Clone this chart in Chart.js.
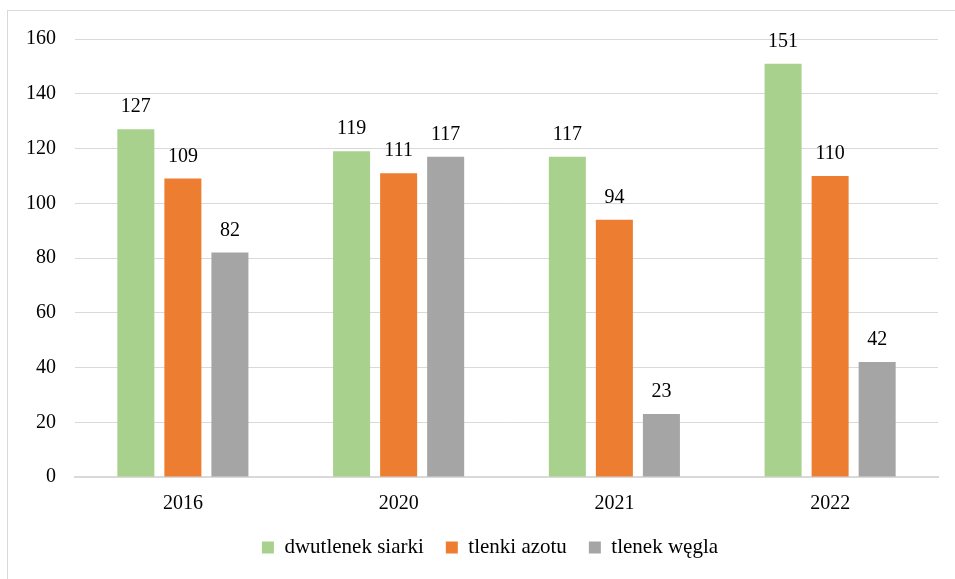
<!DOCTYPE html>
<html>
<head>
<meta charset="utf-8">
<script src="https://cdn.jsdelivr.net/npm/chart.js@4"></script>
<style>
  html, body { margin: 0; padding: 0; background: #fff; }
  #frame {
    position: absolute; left: 7px; top: 10px;
    width: 948px; height: 569px;
    border-left: 1px solid #d9d9d9; border-top: 1px solid #d9d9d9;
    box-sizing: border-box;
  }
  #wrap { position: absolute; left: 0; top: 0; width: 947px; height: 568px; }
</style>
</head>
<body>
<div id="frame"><div id="wrap"><canvas id="c"></canvas></div></div>
<script>
const years = ['2016', '2020', '2021', '2022'];
const seriesNames = ['dwutlenek siarki', 'tlenki azotu', 'tlenek węgla'];
const sulfurDioxide = [127, 119, 117, 151];
const nitrogenOxides = [109, 111, 94, 110];
const carbonMonoxide = [82, 117, 23, 42];
const yTicks = [0, 20, 40, 60, 80, 100, 120, 140, 160];

const colors = ['#a9d18e', '#ed7d31', '#a5a5a5'];
const serif = '"Liberation Serif", "Times New Roman", serif';

// Value labels above each bar
const barValueLabels = {
  id: 'barValueLabels',
  afterDatasetsDraw(chart) {
    const ctx = chart.ctx;
    ctx.save();
    ctx.font = '20px ' + serif;
    ctx.fillStyle = '#000';
    ctx.textAlign = 'center';
    ctx.textBaseline = 'alphabetic';
    chart.data.datasets.forEach((ds, i) => {
      chart.getDatasetMeta(i).data.forEach((bar, j) => {
        ctx.fillText(String(ds.data[j]), bar.x, bar.y - 17);
      });
    });
    ctx.restore();
  }
};

// Nudge the legend row to the right of the canvas centre
const legendShift = {
  id: 'legendShift',
  afterLayout(chart) {
    if (chart.legend) {
      chart.legend.left += 17;
      chart.legend.right += 17;
    }
  }
};

new Chart(document.getElementById('c'), {
  type: 'bar',
  data: {
    labels: years,
    datasets: [
      { label: seriesNames[0], data: sulfurDioxide, backgroundColor: colors[0] },
      { label: seriesNames[1], data: nitrogenOxides, backgroundColor: colors[1] },
      { label: seriesNames[2], data: carbonMonoxide, backgroundColor: colors[2] }
    ]
  },
  options: {
    responsive: true,
    maintainAspectRatio: false,
    animation: false,
    datasets: { bar: { categoryPercentage: 0.654, barPercentage: 0.787 } },
    layout: { padding: { top: 28, right: 17, left: 0, bottom: 11 } },
    plugins: {
      legend: {
        position: 'bottom',
        labels: {
          font: { family: serif, size: 21 },
          color: '#000',
          boxWidth: 12, boxHeight: 12,
          padding: 22,
          generateLabels(chart) {
            return chart.data.datasets.map((ds, i) => ({
              text: ds.label, fillStyle: ds.backgroundColor,
              strokeStyle: ds.backgroundColor, lineWidth: 0, datasetIndex: i
            }));
          }
        }
      },
      tooltip: { enabled: false }
    },
    scales: {
      x: {
        afterFit(scale) { scale.height = 38; },
        grid: { display: false, drawTicks: false },
        border: { color: '#d9d9d9', width: 2 },
        ticks: { font: { family: serif, size: 20 }, color: '#000', padding: 15 }
      },
      y: {
        min: 0, max: 160,
        afterBuildTicks(scale) { scale.ticks = yTicks.map(v => ({ value: v })); },
        afterFit(scale) {
          scale.width = 67;
          scale.paddingTop = 0;
          scale.paddingBottom = 0;
        },
        grid: { color: '#d9d9d9', lineWidth: 1, drawTicks: false },
        border: { display: false },
        ticks: { font: { family: serif, size: 20 }, color: '#000', padding: 19 }
      }
    }
  },
  plugins: [barValueLabels, legendShift]
});
</script>
</body>
</html>
